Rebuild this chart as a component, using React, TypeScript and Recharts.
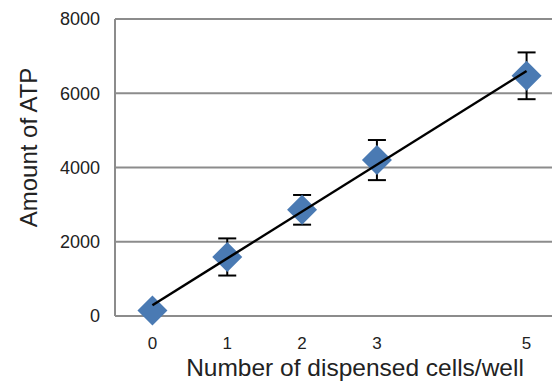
import {
  ComposedChart,
  Scatter,
  ErrorBar,
  XAxis,
  YAxis,
  CartesianGrid,
  Label,
} from 'recharts';

const cells = [0, 1, 2, 3, 5];
const atpAmount = [150, 1590, 2860, 4200, 6470];
const atpError = [0, 500, 400, 540, 630];
const trendCells = [0, 5];
const trendAtp = [290, 6600];
const yTicks = [0, 2000, 4000, 6000, 8000];

const points = cells.map((x, i) => ({ x, y: atpAmount[i], err: atpError[i] }));
const trend = trendCells.map((x, i) => ({ x, y: trendAtp[i] }));

const FONT = '"Liberation Sans", Arial, sans-serif';
const GRID = '#8c8c8c';

const Diamond = (props: any) => {
  const { cx, cy } = props;
  const r = 15;
  return (
    <polygon
      points={`${cx},${cy - r} ${cx + r},${cy} ${cx},${cy + r} ${cx - r},${cy}`}
      fill="#4a7ab3"
    />
  );
};

const NoDot = () => <g />;

export default function App() {
  return (
    <div style={{ width: 552, height: 374, overflow: 'hidden' }}>
      <ComposedChart
        width={570}
        height={374}
        margin={{ top: 11, right: 14, bottom: 0, left: 0 }}
      >
        <CartesianGrid horizontal vertical={false} stroke={GRID} strokeWidth={2} />
        <XAxis
          type="number"
          dataKey="x"
          domain={[-0.5, 5.5]}
          ticks={cells}
          height={66}
          tickSize={0}
          tickMargin={21}
          axisLine={{ stroke: GRID, strokeWidth: 2 }}
          tick={{ fontSize: 17, fill: '#222', fontFamily: FONT }}
        >
          <Label
            content={() => (
              <text
                x={347}
                y={368}
                textAnchor="middle"
                fontSize={24.5}
                fill="#222"
                fontFamily={FONT}
              >
                Number of dispensed cells/well
              </text>
            )}
          />
        </XAxis>
        <YAxis
          type="number"
          dataKey="y"
          domain={[0, 8000]}
          ticks={yTicks}
          width={107}
          tickSize={0}
          tickMargin={15}
          axisLine={{ stroke: GRID, strokeWidth: 2 }}
          tick={{ fontSize: 18, fill: '#222', fontFamily: FONT }}
        >
          <Label
            content={() => (
              <text
                x={29}
                y={139.5}
                transform="rotate(-90 29 139.5)"
                textAnchor="middle"
                fontSize={24}
                fill="#222"
                fontFamily={FONT}
              >
                Amount of ATP
              </text>
            )}
          />
        </YAxis>
        <Scatter data={points} shape={Diamond} isAnimationActive={false}>
          <ErrorBar
            dataKey="err"
            direction="y"
            width={9}
            stroke="#000"
            strokeWidth={2}
            isAnimationActive={false}
          />
        </Scatter>
        <Scatter
          data={trend}
          shape={NoDot}
          line={{ stroke: '#000', strokeWidth: 2.5 }}
          lineType="joint"
          isAnimationActive={false}
        />
      </ComposedChart>
    </div>
  );
}
